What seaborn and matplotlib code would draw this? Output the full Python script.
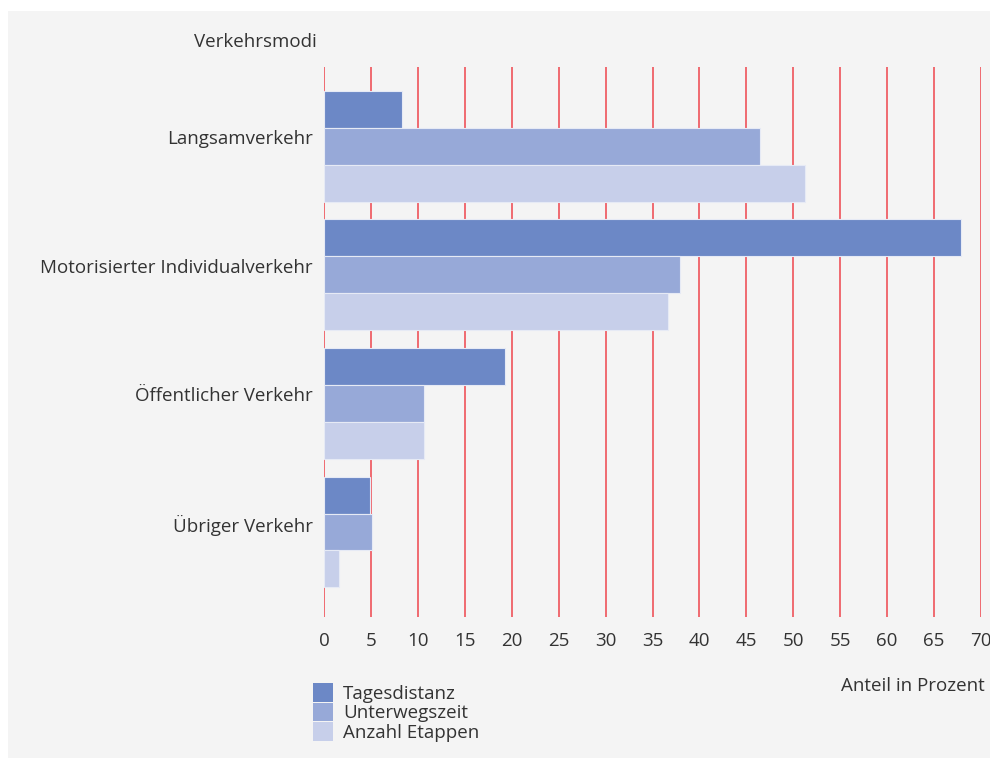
import pandas as pd
import seaborn as sns
import matplotlib.pyplot as plt
from matplotlib.patches import Rectangle, Patch

# Daten
modi = ['Langsamverkehr', 'Motorisierter Individualverkehr',
        'Öffentlicher Verkehr', 'Übriger Verkehr']
serien = ['Tagesdistanz', 'Unterwegszeit', 'Anzahl Etappen']
tagesdistanz = [8.3, 67.9, 19.3, 4.9]
unterwegszeit = [46.5, 37.9, 10.7, 5.1]
etappen = [51.2, 36.6, 10.7, 1.6]
farben = ['#6c88c6', '#97a9d8', '#c7cfea']

df = pd.DataFrame({
    'Modus': modi * 3,
    'Serie': [s for s in serien for _ in modi],
    'Wert': tagesdistanz + unterwegszeit + etappen,
})

sns.set_style('white')
plt.rcParams['font.family'] = ['Open Sans', 'DejaVu Sans']
fs = 13.5
tc = '#333333'

fig = plt.figure(figsize=(9.9, 7.58), dpi=100, facecolor='white')
# grauer Hintergrund mit weissem Rand oben/links
fig.patches.append(Rectangle((8 / 990, 0), 1, 1 - 11 / 758, transform=fig.transFigure,
                             facecolor='#f4f4f4', edgecolor='none', zorder=-10))

ax = fig.add_axes([324 / 990, 1 - 617 / 758, (981 - 324) / 990, (617 - 67) / 758])
ax.set_facecolor('none')

sns.barplot(data=df, y='Modus', x='Wert', hue='Serie', orient='h', order=modi,
            hue_order=serien, palette=farben, saturation=1, width=0.862,
            edgecolor='#e6eaf5', linewidth=0.8, ax=ax, legend=False, zorder=3)

ax.set_xlim(0, 70)
ax.set_ylim(3.661, -0.616)
ax.set_xticks(range(0, 75, 5))
# Beschriftungen sitzen etwas oberhalb der Gruppenmitte
ax.set_yticks([i - 0.07 for i in range(len(modi))], modi)
for x in range(0, 75, 5):
    ax.axvline(x, color='#ef5f66', linewidth=1.3, zorder=1)
for s in ax.spines.values():
    s.set_visible(False)
ax.tick_params(axis='both', length=0, labelsize=fs, labelcolor=tc)
ax.tick_params(axis='y', pad=8)
ax.tick_params(axis='x', pad=11)
ax.set_xlabel('')
ax.set_ylabel('')

fig.text(317 / 990, 1 - 42 / 758, 'Verkehrsmodi', ha='right', va='center',
         fontsize=fs, color=tc)
fig.text(985 / 990, 1 - 686 / 758, 'Anteil in Prozent', ha='right', va='center',
         fontsize=fs, color=tc)

handles = [Patch(facecolor=c, edgecolor='none') for c in farben]
fig.legend(handles, serien, loc='upper left', bbox_to_anchor=(313 / 990, 1 - 683 / 758),
           frameon=False, borderpad=0, borderaxespad=0, labelspacing=0,
           handlelength=1.07, handleheight=1.15, handletextpad=0.53,
           fontsize=fs, labelcolor=tc)

fig.savefig('out.png', dpi=100, facecolor=fig.get_facecolor())
